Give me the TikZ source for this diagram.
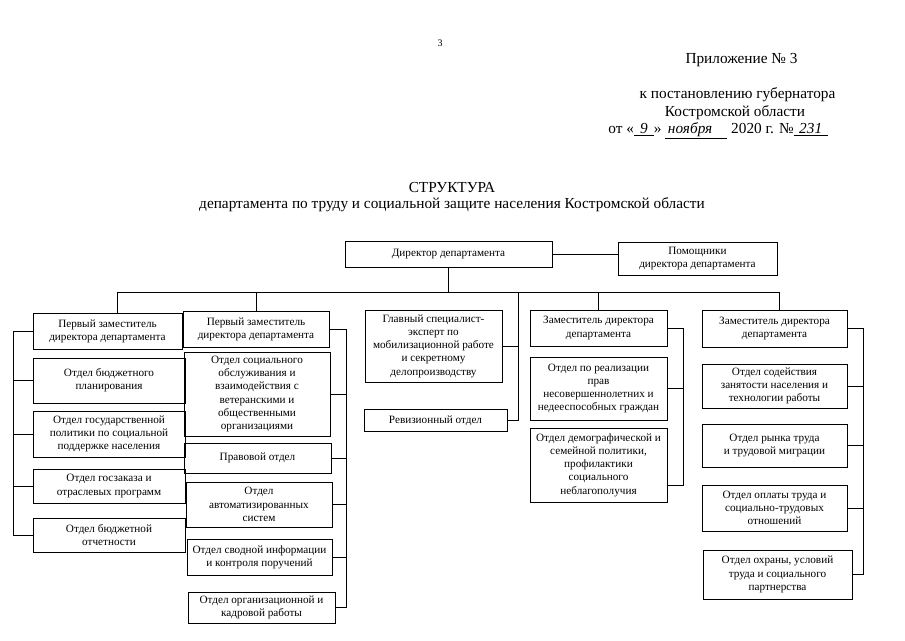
\documentclass[tikz,border=0pt]{standalone}
\usepackage{fontspec}
\setmainfont{Liberation Serif}
\usetikzlibrary{calc}

\begin{document}
\begin{tikzpicture}[x=1pt,y=-1pt,
  every node/.style={font=\fontsize{11.2}{13.2}\selectfont},
  box/.style={draw,line width=0.9pt,align=center,inner sep=0pt},
  head/.style={font=\fontsize{15.3}{18}\selectfont,inner sep=0pt},
  ln/.style={line width=0.9pt}]
\useasboundingbox (0,0) rectangle (905,640);

% header
\node[inner sep=0pt,font=\fontsize{10}{11}\selectfont] (pg) at (440,43) {3};
\node[head] (app) at (741.5,60) {Приложение № 3};
\node[head] (res) at (737.5,95) {к постановлению губернатора};
\node[head] (reg) at (735,113) {Костромской области};
\node[head] (dat) at (718,131) {от «\underline{\makebox[20pt]{\textit{9}}}» \underline{\makebox[62pt][l]{\,\textit{ноября}}} 2020 г. №\underline{\makebox[34pt]{\textit{231}}}};
\node[head] (ttl) at (452,188) {СТРУКТУРА};
\node[head] (sub) at (452,205) {департамента по труду и социальной защите населения Костромской области};

% top level
\node[box,minimum width=207,minimum height=26] (dir) at (448.5,254) {Директор департамента};
\node[box,minimum width=159,minimum height=33] (asst) at (697.5,258.5) {Помощники\\директора департамента};

% first deputy (left)
\node[box,minimum width=149,minimum height=36] (a1) at (107.5,331) {Первый заместитель\\директора департамента};
\node[box,minimum width=152,minimum height=45] (a2) at (109,380.5) {Отдел бюджетного\\планирования};
\node[box,minimum width=152,minimum height=46] (a3) at (109,434) {Отдел государственной\\политики по социальной\\поддержке населения};
\node[box,minimum width=152,minimum height=34] (a4) at (109,486) {Отдел госзаказа и\\отраслевых программ};
\node[box,minimum width=152,minimum height=34] (a5) at (109,535) {Отдел бюджетной\\отчетности};

% first deputy (second)
\node[box,minimum width=146,minimum height=36] (b1) at (256,329) {Первый заместитель\\директора департамента};
\node[box,minimum width=146,minimum height=84] (b2) at (257,394) {Отдел социального\\обслуживания и\\взаимодействия с\\ветеранскими и\\общественными\\организациями};
\node[box,minimum width=147,minimum height=30] (b3) at (257.5,458) {Правовой отдел};
\node[box,minimum width=146,minimum height=45] (b4) at (259,504.5) {Отдел\\автоматизированных\\систем};
\node[box,minimum width=145,minimum height=36] (b5) at (259.5,557) {Отдел сводной информации\\и контроля поручений};
\node[box,minimum width=147,minimum height=31] (b6) at (261.5,607.5) {Отдел организационной и\\кадровой работы};

% centre
\node[box,minimum width=137,minimum height=72] (c1) at (433.5,346) {Главный специалист-\\эксперт по\\мобилизационной работе\\и секретному\\делопроизводству};
\node[box,minimum width=143,minimum height=22] (c2) at (435.5,420.5) {Ревизионный отдел};

% deputy
\node[box,minimum width=137,minimum height=36] (d1) at (598.5,328) {Заместитель директора\\департамента};
\node[box,minimum width=137,minimum height=63] (d2) at (598.5,388.5) {Отдел по реализации\\прав\\несовершеннолетних и\\недееспособных граждан};
\node[box,minimum width=137,minimum height=74] (d3) at (598.5,465) {Отдел демографической и\\семейной политики,\\профилактики\\социального\\неблагополучия};

% deputy (right)
\node[box,minimum width=145,minimum height=37] (e1) at (774.5,328.5) {Заместитель директора\\департамента};
\node[box,minimum width=145,minimum height=44] (e2) at (774.5,386) {Отдел содействия\\занятости населения и\\технологии работы};
\node[box,minimum width=145,minimum height=43] (e3) at (774.5,445.5) {Отдел рынка труда\\и трудовой миграции};
\node[box,minimum width=145,minimum height=46] (e4) at (774.5,508) {Отдел оплаты труда и\\социально-трудовых\\отношений};
\node[box,minimum width=149,minimum height=49] (e5) at (777.5,574.5) {Отдел охраны, условий\\труда и социального\\партнерства};

% connectors
\coordinate (bus) at (0,292);
\coordinate (ls) at (13,0);
\coordinate (bs) at (346,0);
\coordinate (cs) at (518,0);
\coordinate (ds) at (683,0);
\coordinate (es) at (863,0);
\coordinate (d3b) at ([yshift=-20]d3.east);

\draw[ln] (dir.east) -- (dir.east -| asst.west);
\draw[ln] (dir.south) -- (dir.south |- bus);
\draw[ln] ([xshift=10]a1.north) -- ([xshift=10]a1.north |- bus) -- ([xshift=5]e1.north |- bus) -- ([xshift=5]e1.north);
\foreach \n in {b1,d1}
  \draw[ln] (\n.north) -- (\n.north |- bus);

\draw[ln] (a1.west) -| (ls |- a5.west) -- (a5.west);
\foreach \n in {a2,a3,a4}
  \draw[ln] (\n.west) -- (ls |- \n.west);

\draw[ln] (b1.east) -| (bs |- b6.east) -- (b6.east);
\foreach \n in {b2,b3,b4,b5}
  \draw[ln] (\n.east) -- (bs |- \n.east);

\draw[ln] (cs |- bus) -- (cs |- c2.east) -- (c2.east);
\draw[ln] (c1.east) -- (cs |- c1.east);

\draw[ln] (d1.east) -| (d3b -| ds) -- (d3b);
\draw[ln] (d2.east) -- (ds |- d2.east);

\draw[ln] (e1.east) -| (es |- e5.east) -- (e5.east);
\foreach \n in {e2,e3,e4}
  \draw[ln] (\n.east) -- (es |- \n.east);

\end{tikzpicture}
\end{document}
